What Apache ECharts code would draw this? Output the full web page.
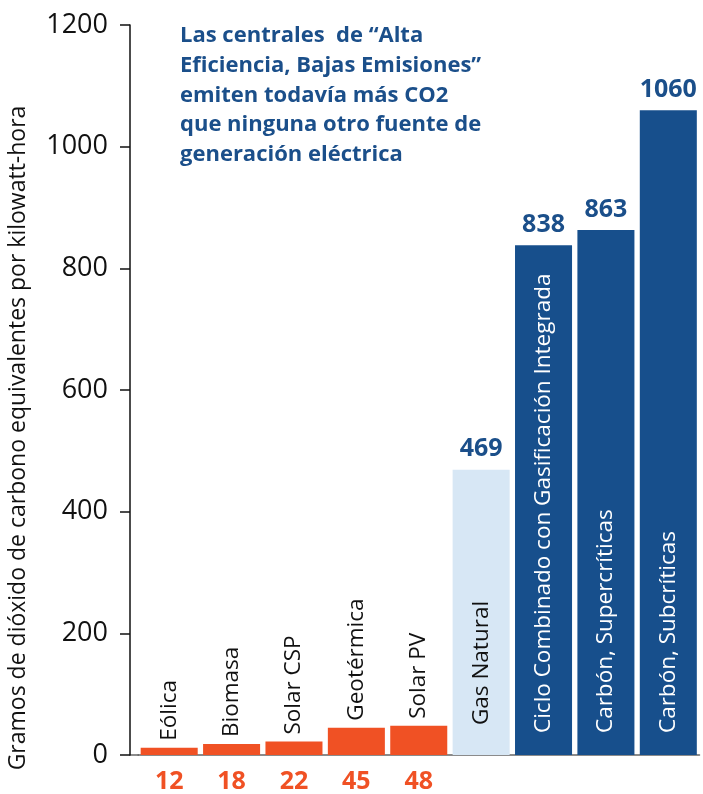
<!DOCTYPE html>
<html>
<head>
<meta charset="utf-8">
<script src="https://cdn.jsdelivr.net/npm/echarts@6/dist/echarts.min.js"></script>
<style>
  html, body { margin: 0; padding: 0; background: #fff; }
  #chart { width: 703px; height: 794px; }
</style>
</head>
<body>
<div id="chart"></div>
<script>
'use strict';

// datos
var categorias = ['Eólica', 'Biomasa', 'Solar CSP', 'Geotérmica', 'Solar PV', 'Gas Natural',
    'Ciclo Combinado con Gasificación Integrada', 'Carbón, Supercríticas', 'Carbón, Subcríticas'];
var emisiones = [12, 18, 22, 45, 48, 469, 838, 863, 1060];
var fuentes = ['renovable', 'renovable', 'renovable', 'renovable', 'renovable', 'gas', 'carbon', 'carbon', 'carbon'];
var nota = ['Las centrales  de \u201cAlta', 'Eficiencia, Bajas Emisiones\u201d', 'emiten todavía más CO2',
    'que ninguna otro fuente de', 'generación eléctrica'];
var tituloEje = 'Gramos de dióxido de carbono equivalentes por kilowatt-hora';

var colores = { renovable: '#f05124', gas: '#d7e7f5', carbon: '#174f8c' };
var azul = '#1b4f8a';
var fuente = '"Open Sans", Lato, sans-serif';

var chart = echarts.init(document.getElementById('chart'));

//barras con la etiqueta de categoria
var barras = emisiones.map(function(v, i) {
    var tipo = fuentes[i];
    var label;
    if (tipo == 'renovable') {
        label = { position: 'top', distance: 7, color: '#111' };
    } else {
        label = { position: 'insideBottom', distance: tipo == 'gas' ? 30 : 22, color: tipo == 'gas' ? '#111' : '#fff' };
    }
    return { value: v, itemStyle: { color: colores[tipo] }, label: label };
});

var option = {
    animation: false,
    textStyle: { fontFamily: fuente },
    grid: { left: 138, right: 3.5, top: 25, bottom: 39 },
    xAxis: {
        type: 'category',
        data: categorias,
        axisLine: { lineStyle: { color: '#666', width: 1.5 } },
        axisTick: { show: false },
        axisLabel: {
            interval: 0,
            margin: 14,
            fontSize: 25,
            fontWeight: 'bold',
            color: '#f05124',
            formatter: function(val, idx) {
                return fuentes[idx] == 'renovable' ? String(emisiones[idx]) : '';
            }
        }
    },
    yAxis: {
        type: 'value',
        min: 0,
        max: 1200,
        interval: 200,
        offset: 8,
        axisLine: { show: true, lineStyle: { color: '#111', width: 1.5 } },
        axisTick: { show: true, length: 10, lineStyle: { color: '#111', width: 1.5 } },
        splitLine: { show: false },
        axisLabel: {
            fontSize: 27,
            color: '#111',
            margin: 22,
            formatter: function(v) { return String(v); }
        }
    },
    series: [{
        type: 'bar',
        data: barras,
        barCategoryGap: '8.6%',
        label: {
            show: true,
            rotate: 90,
            align: 'left',
            verticalAlign: 'middle',
            fontSize: 22.5,
            formatter: function(p) { return categorias[p.dataIndex]; }
        }
    }, {
        type: 'bar',
        data: emisiones,
        barGap: '-100%',
        barCategoryGap: '8.6%',
        silent: true,
        itemStyle: { color: 'rgba(0,0,0,0)' },
        label: {
            show: true,
            position: 'top',
            distance: 8,
            fontSize: 25,
            fontWeight: 'bold',
            color: azul,
            formatter: function(p) {
                return fuentes[p.dataIndex] == 'renovable' ? '' : String(p.value);
            }
        }
    }],
    graphic: [{
        type: 'text',
        left: 180,
        top: 21,
        style: {
            text: nota.join('\n'),
            font: 'bold 22px ' + fuente,
            fill: azul,
            lineHeight: 29.7
        }
    }, {
        type: 'text',
        x: 18,
        y: 438,
        rotation: Math.PI / 2,
        style: {
            text: tituloEje,
            font: '23px ' + fuente,
            fill: '#111',
            align: 'center',
            verticalAlign: 'middle'
        }
    }, {
        type: 'line',
        shape: { x1: 130, y1: 755, x2: 139, y2: 755 },
        style: { stroke: '#666', lineWidth: 1.5 }
    }]
};

chart.setOption(option);
</script>
</body>
</html>
